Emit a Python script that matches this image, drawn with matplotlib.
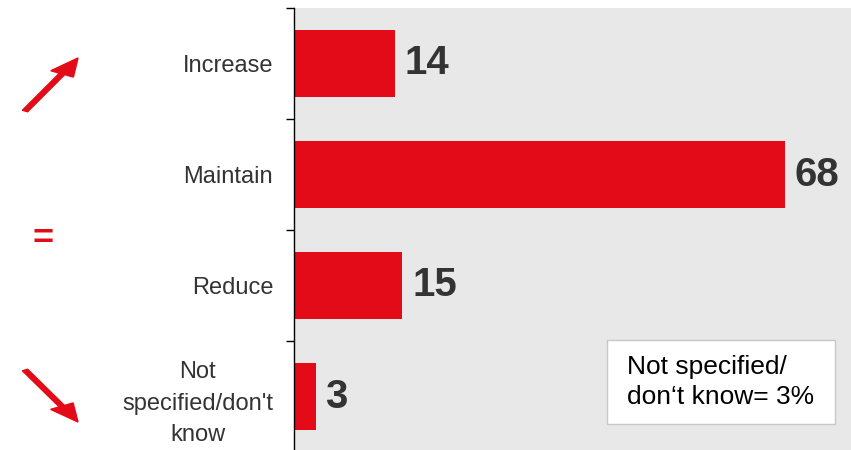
import matplotlib.pyplot as plt
from matplotlib.patches import FancyArrow, Rectangle

categories = ["Increase", "Maintain", "Reduce", "Not\nspecified/don't\nknow"]
shares = [14, 68, 15, 3]
note_text = "Not specified/\ndon\u2018t know= 3%"

bar_color = "#e30b17"
panel_color = "#e8e8e8"
text_color = "#333333"

plt.rcParams["font.family"] = ["Liberation Sans", "DejaVu Sans"]

fig = plt.figure(figsize=(8.51, 4.5), dpi=100)
ax = fig.add_axes([294 / 851, -2 / 450, 557 / 851, 444 / 450])
ax.set_facecolor(panel_color)

positions = list(range(len(categories)))
ax.barh(positions, shares, height=0.61, color=bar_color, zorder=2)
for pos, value in zip(positions, shares):
    ax.annotate(str(value), (value, pos), xytext=(7, 0), textcoords="offset points",
                ha="left", va="center", fontsize=29, fontweight="bold", color=text_color)

ax.set_xlim(0, 77.1)
ax.set_ylim(len(categories) - 0.5, -0.5)
ax.set_xticks([])

# category labels on major ticks (hidden), separators on minor ticks
ax.set_yticks(positions)
ax.set_yticklabels(categories, fontsize=17, color=text_color, multialignment="center",
                   linespacing=1.55)
ax.set_yticks([p - 0.5 for p in range(len(categories) + 1)], minor=True)
ax.tick_params(axis="y", which="major", length=0, pad=15)
ax.tick_params(axis="y", which="minor", length=6, width=1, color="black")

for side in ("top", "right", "bottom"):
    ax.spines[side].set_visible(False)
ax.spines["left"].set_color("black")
ax.spines["left"].set_linewidth(1)

# note box in the lower right
ax.add_patch(Rectangle((0.562, 0.063), 0.409, 0.189, transform=ax.transAxes,
                       facecolor="white", edgecolor="#c8c8c8", linewidth=1, zorder=3))
ax.text(0.598, 0.158, note_text, transform=ax.transAxes, ha="left", va="center",
        fontsize=19, color="black", linespacing=1.3, zorder=4)

# trend markers left of the labels
def trend_arrow(x0, y0, x1, y1):
    fig.add_artist(FancyArrow(x0 / 851, 1 - y0 / 450, (x1 - x0) / 851, (y0 - y1) / 450,
                              width=0.007, head_width=0.03, head_length=0.04,
                              length_includes_head=True, color=bar_color,
                              transform=fig.transFigure))

trend_arrow(25, 111, 78, 58)
trend_arrow(25, 370, 78, 422)
fig.text(43 / 851, 1 - 240 / 450, "=", ha="center", va="center", fontsize=26,
         fontweight="bold", color=bar_color)

fig.savefig("out.png", dpi=100)
